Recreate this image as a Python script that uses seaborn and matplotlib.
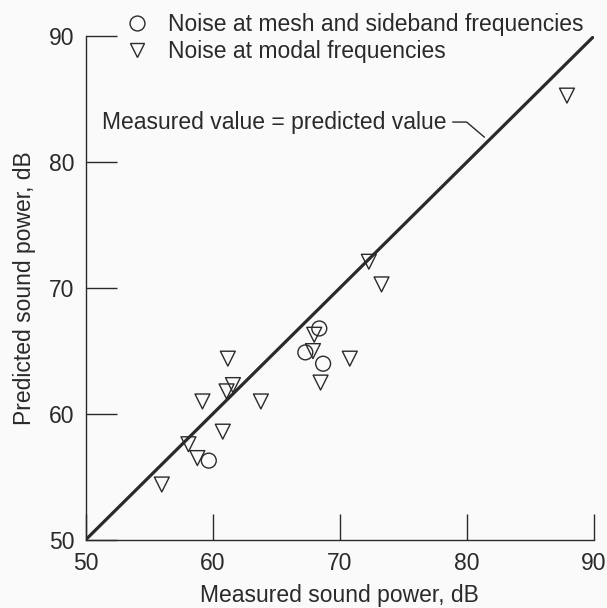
import matplotlib
matplotlib.use("Agg")
import matplotlib.pyplot as plt
import seaborn as sns
import pandas as pd
from matplotlib.lines import Line2D

# Data
mesh_measured = [68.4, 67.3, 68.7, 59.7]
mesh_predicted = [66.8, 64.9, 64.0, 56.3]

modal_measured = [68.0, 67.9, 70.8, 68.5, 61.2, 61.6, 61.1, 59.2, 63.8,
                  60.8, 58.1, 58.8, 56.0, 72.3, 73.3, 87.9]
modal_predicted = [66.3, 65.0, 64.4, 62.5, 64.4, 62.3, 61.8, 61.0, 61.0,
                   58.6, 57.6, 56.5, 54.4, 72.1, 70.3, 85.3]

series_labels = ["Noise at mesh and sideband frequencies", "Noise at modal frequencies"]
ticks = [50, 60, 70, 80, 90]

df = pd.DataFrame({
    "measured": mesh_measured + modal_measured,
    "predicted": mesh_predicted + modal_predicted,
    "kind": [series_labels[0]] * len(mesh_measured) + [series_labels[1]] * len(modal_measured),
})

sns.set_style("white")
plt.rcParams["font.family"] = ["Liberation Sans", "DejaVu Sans"]
ink = "#2a2a2a"
fs = 16.5

fig = plt.figure(figsize=(6.07, 6.08), dpi=100, facecolor="#fafafa")
ax = fig.add_axes([0.141, 0.112, 0.837, 0.828])
ax.set_facecolor("#fafafa")

# identity line
ax.plot([50, 90], [50, 90], color=ink, lw=2.3, zorder=2, solid_capstyle="butt")

sns.scatterplot(data=df, x="measured", y="predicted", style="kind",
                markers={series_labels[0]: "o", series_labels[1]: "v"},
                s=115, facecolor="none", edgecolor=ink, linewidth=1.0,
                legend=False, ax=ax, zorder=3)

ax.set_xlim(50, 90)
ax.set_ylim(50, 90)
ax.set_xticks(ticks)
ax.set_yticks(ticks)
ax.tick_params(axis="x", bottom=True, direction="in", length=19, width=1.0, color=ink,
               labelsize=fs, labelcolor=ink, pad=9)
ax.tick_params(axis="y", left=True, direction="in", length=22, width=1.0, color=ink,
               labelsize=fs, labelcolor=ink, pad=8)
for side in ["top", "right"]:
    ax.spines[side].set_visible(False)
for side in ["left", "bottom"]:
    ax.spines[side].set_color(ink)
    ax.spines[side].set_linewidth(1.0)

ax.set_xlabel("Measured sound power, dB", fontsize=fs, color=ink, labelpad=6)
ax.set_ylabel("Predicted sound power, dB", fontsize=fs, color=ink, labelpad=9)

# annotation
ax.text(78.4, 83.2, "Measured value = predicted value", fontsize=fs, color=ink,
        ha="right", va="center")
ax.plot([78.9, 80.0, 81.4], [83.2, 83.2, 82.0], color=ink, lw=1.0, zorder=2)

# legend
handles = [
    Line2D([], [], marker="o", ls="none", markersize=10.7, markerfacecolor="none",
           markeredgecolor=ink, markeredgewidth=1.0),
    Line2D([], [], marker="v", ls="none", markersize=10.7, markerfacecolor="none",
           markeredgecolor=ink, markeredgewidth=1.0),
]
leg = ax.legend(handles, series_labels, loc="upper left", bbox_to_anchor=(0.057, 1.07),
                frameon=False, fontsize=fs, handlelength=1.0, handletextpad=0.85,
                labelspacing=0.2, borderpad=0)
for t in leg.get_texts():
    t.set_color(ink)

fig.savefig("out.png", dpi=100, facecolor=fig.get_facecolor())
